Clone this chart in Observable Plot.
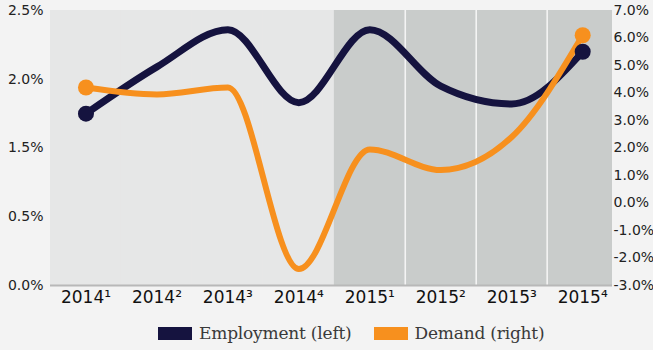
<!DOCTYPE html>
<html>
<head>
<meta charset="utf-8">
<script src="https://cdn.jsdelivr.net/npm/d3@7"></script>
<script src="https://cdn.jsdelivr.net/npm/@observablehq/plot@0.6"></script>
<style>
  html, body { margin: 0; padding: 0; background: #f3f3f3; }
  #chart { width: 653px; }
  .legend { display: flex; justify-content: flex-start; align-items: center; padding-left: 158px; height: 42px; font-family: "DejaVu Serif", serif; font-size: 17px; color: #3a3a3a; letter-spacing: -0.2px; }
  .legend .sw { display: inline-block; width: 34px; height: 13px; margin-right: 7px; }
  .legend .item { display: flex; align-items: center; margin-right: 22px; }
</style>
</head>
<body>
<div id="chart"></div>
<script>
const categories = ["2014¹","2014²","2014³","2014⁴","2015¹","2015²","2015³","2015⁴"];
const employment = [1.75, 2.09, 2.36, 1.83, 2.36, 1.95, 1.82, 2.20];
const demand = [4.2, 3.95, 4.2, -2.4, 1.95, 1.2, 2.4, 6.1];
const leftTicks = [0.5, 1.0, 1.5, 2.0, 2.5];
const leftTickLabels = ["0.0%", "0.5%", "1.5%", "2.0%", "2.5%"];
const rightTicks = [-3, -2, -1, 0, 1, 2, 3, 4, 5, 6, 7];
const seriesNames = ["Employment (left)", "Demand (right)"];
const colors = ["#15133f", "#f7901e"];

// map right-axis (demand) values onto the left scale
const toLeft = d => 0.5 + (d + 3) * 0.2;

const empData = categories.map((c, i) => ({i, c, v: employment[i]}));
const demData = categories.map((c, i) => ({i, c, v: toLeft(demand[i])}));
const bg = categories.map((c, i) => ({i, c, year: c.slice(0, 4)}));
const ends = [0, categories.length - 1];
const xEnd = categories.length - 0.58;

const plot = Plot.plot({
  width: 653,
  height: 312,
  marginLeft: 50,
  marginRight: 41,
  marginTop: 10,
  marginBottom: 27,
  style: {fontFamily: "'DejaVu Sans', sans-serif", background: "transparent", color: "#222"},
  x: {domain: [-0.5, xEnd], label: null},
  y: {domain: [0.5, 2.5], label: null},
  marks: [
    Plot.rectY(bg, {
      x1: d => d.i - 0.5,
      x2: d => Math.min(d.i + 0.5, xEnd),
      y1: 0.5, y2: 2.5,
      fill: d => d.year === "2014" ? "#e6e7e7" : "#c9cccb"
    }),
    Plot.ruleX(bg.filter(d => d.year === "2015" && d.i > 4), {
      x: d => d.i - 0.5, stroke: "#f4f4f4", strokeWidth: 1.5
    }),
    Plot.ruleY([0.5], {stroke: "#b8b8b8", strokeWidth: 2}),
    Plot.line(empData, {x: "i", y: "v", stroke: colors[0], strokeWidth: 7, curve: "monotone-x"}),
    Plot.line(demData, {x: "i", y: "v", stroke: colors[1], strokeWidth: 6, curve: "monotone-x"}),
    Plot.dot(ends.map(i => empData[i]), {x: "i", y: "v", r: 8, fill: colors[0]}),
    Plot.dot(ends.map(i => demData[i]), {x: "i", y: "v", r: 8, fill: colors[1]}),
    Plot.axisX(d3.range(categories.length), {
      tickSize: 0, tickPadding: 5, fontSize: 17, fill: "#111", label: null,
      style: {letterSpacing: "1.5px"},
      tickFormat: i => categories[i]
    }),
    Plot.axisY(leftTicks, {
      anchor: "left", tickSize: 0, tickPadding: 7, fontSize: 14, fill: "#222", label: null,
      style: {letterSpacing: "0.8px"},
      tickFormat: (d) => leftTickLabels[leftTicks.indexOf(d)]
    }),
    Plot.axisY(rightTicks.map(toLeft), {
      anchor: "right", tickSize: 0, tickPadding: 1, fontSize: 14, fill: "#222", label: null,
      style: {letterSpacing: "0.8px"},
      tickFormat: (d) => rightTicks[rightTicks.map(toLeft).indexOf(d)].toFixed(1) + "%"
    })
  ]
});

const chart = document.getElementById("chart");
chart.appendChild(plot);
const legend = document.createElement("div");
legend.className = "legend";
seriesNames.forEach((name, k) => {
  const item = document.createElement("span");
  item.className = "item";
  const sw = document.createElement("span");
  sw.className = "sw";
  sw.style.background = colors[k];
  item.appendChild(sw);
  item.appendChild(document.createTextNode(name));
  legend.appendChild(item);
});
chart.appendChild(legend);
</script>
</body>
</html>
